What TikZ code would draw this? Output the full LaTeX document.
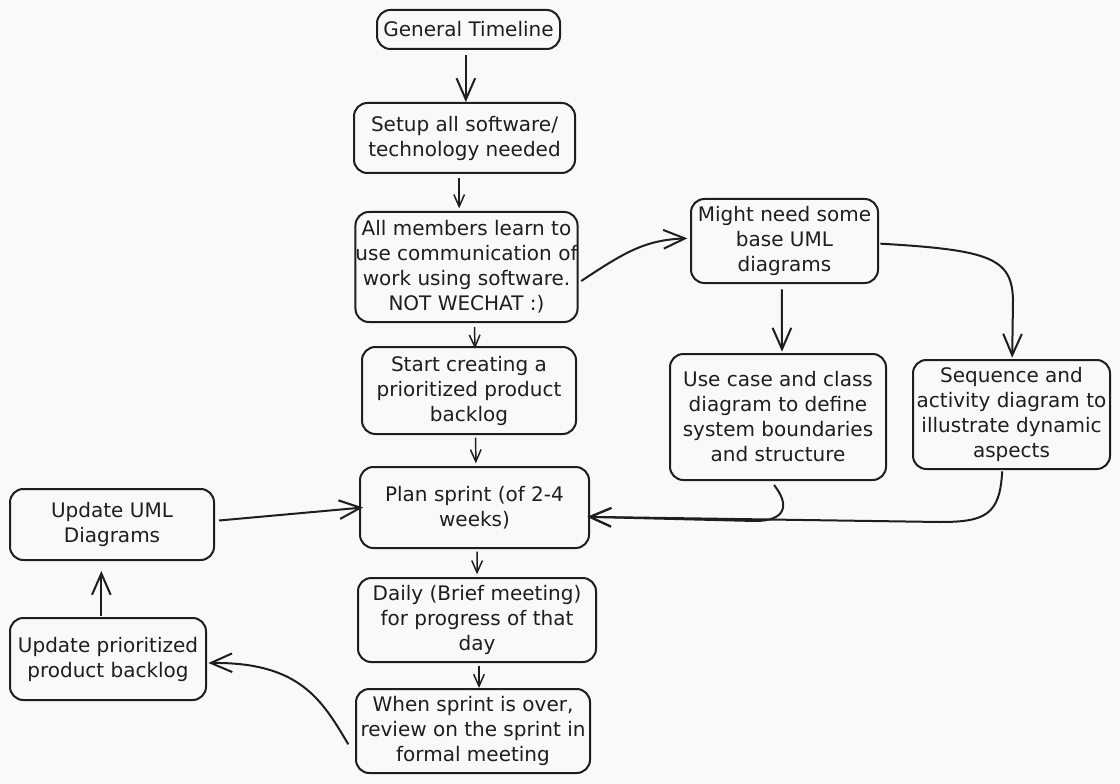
\documentclass[tikz,border=0pt]{standalone}
\usepackage{fontspec}
\setmainfont{DejaVu Sans}
\usetikzlibrary{arrows.meta}
\definecolor{paper}{HTML}{F8F9FA}
\definecolor{ink}{HTML}{1E1E1E}
\tikzset{
  card/.style={draw=ink, line width=1.5pt, rounded corners=10pt, fill=paper, text=ink,
    align=center, inner sep=0pt, font=\fontsize{15}{18.75}\selectfont},
  bigflow/.style={draw=ink, line width=1.5pt, -{Straight Barb[length=16pt,width=14pt]}},
  smallflow/.style={draw=ink, line width=1.1pt, -{Straight Barb[length=9pt,width=8pt]}}
}
\begin{document}
\begin{tikzpicture}[x=0.75pt, y=-0.75pt]
    % page
    \fill[paper] (0,0) rectangle (1120,784);
    \useasboundingbox (0,0) rectangle (1120,784);
    % main column
    \node[card, minimum width=137.25pt, minimum height=29.25pt] (timeline) at (468.5,29.5) {General Timeline};
    \node[card, minimum width=165.75pt, minimum height=52.5pt] (setup) at (464.5,138) {Setup all software/\\technology needed};
    \node[card, minimum width=164.25pt, minimum height=82.5pt] (members) at (466.5,267) {All members learn to\\use communication of\\work using software.\\NOT WECHAT :)};
    \node[card, minimum width=160.5pt, minimum height=65.25pt] (backlog) at (469,390.5) {Start creating a\\prioritized product\\backlog};
    \node[card, minimum width=171.75pt, minimum height=60.75pt] (plan) at (474.5,507.5) {Plan sprint (of 2-4\\weeks)};
    \node[card, minimum width=178.5pt, minimum height=63pt] (daily) at (477,620) {Daily (Brief meeting)\\for progress of that\\day};
    \node[card, minimum width=175.5pt, minimum height=63pt] (review) at (473,731) {When sprint is over,\\review on the sprint in\\formal meeting};
    % UML branch
    \node[card, minimum width=140.25pt, minimum height=63pt] (uml) at (784.5,241) {Might need some\\base UML\\diagrams};
    \node[card, minimum width=162pt, minimum height=94.5pt] (usecase) at (778,417) {Use case and class\\diagram to define\\system boundaries\\and structure};
    \node[card, minimum width=147.75pt, minimum height=81.75pt] (sequence) at (1011.5,414.5) {Sequence and\\activity diagram to\\illustrate dynamic\\aspects};
    % update loop
    \node[card, minimum width=153pt, minimum height=53.25pt] (updateuml) at (112,524.5) {Update UML\\Diagrams};
    \node[card, minimum width=147pt, minimum height=61.5pt] (updatebacklog) at (108,659) {Update prioritized\\product backlog};
    % arrows down the column
    \draw[bigflow] ([xshift=-2pt,yshift=-4pt]timeline.south) -- ([xshift=1pt]setup.north);
    \draw[smallflow] ([xshift=-4pt,yshift=-3pt]setup.south) -- ([xshift=-5.5pt,yshift=2pt]members.north);
    \draw[smallflow] ([xshift=6pt,yshift=-3pt]members.south) -- ([xshift=4.5pt,yshift=-2pt]backlog.north);
    \draw[smallflow] ([xshift=5pt,yshift=-2pt]backlog.south) -- ([xshift=1pt,yshift=2pt]plan.north);
    \draw[smallflow] ([xshift=2pt,yshift=-2pt]plan.south) -- ([yshift=2pt]daily.north);
    \draw[smallflow] ([xshift=1.5pt,yshift=-2pt]daily.south) -- ([xshift=4.5pt]review.north);
    % arrows of the UML branch
    \draw[bigflow] ([xshift=2pt,yshift=-10.5pt]members.east) .. controls (625,252) and (645,240) .. ([xshift=-2pt,yshift=2pt]uml.west);
    \draw[bigflow] ([xshift=-2pt,yshift=-4pt]uml.south) -- ([xshift=3pt,yshift=1pt]usecase.north);
    \draw[bigflow] ([xshift=1pt,yshift=-2pt]uml.east) .. controls (990,250) and (1012,258) .. (1013,300) -- ([xshift=0.5pt,yshift=1pt]sequence.north);
    \draw[bigflow] ([xshift=-3pt,yshift=-3pt]usecase.south) .. controls (790,505) and (786,521) .. (755,521) -- ([xshift=-2pt,yshift=-7pt]plan.east);
    \draw[bigflow] ([xshift=-7pt,yshift=-1pt]sequence.south) .. controls (1000,515) and (985,522) .. (940,522) -- ([xshift=-2pt,yshift=-7pt]plan.east);
    % arrows of the update loop
    \draw[bigflow] ([xshift=3pt,yshift=3pt]updateuml.east) -- ([xshift=3pt]plan.west);
    \draw[bigflow] ([xshift=-5pt,yshift=1pt]updatebacklog.north) -- ([xshift=-8pt,yshift=-7.5pt]updateuml.south);
    \draw[bigflow] ([xshift=-5pt,yshift=-10pt]review.west) .. controls (322,700) and (300,662) .. ([xshift=1pt,yshift=-3pt]updatebacklog.east);
\end{tikzpicture}
\end{document}
